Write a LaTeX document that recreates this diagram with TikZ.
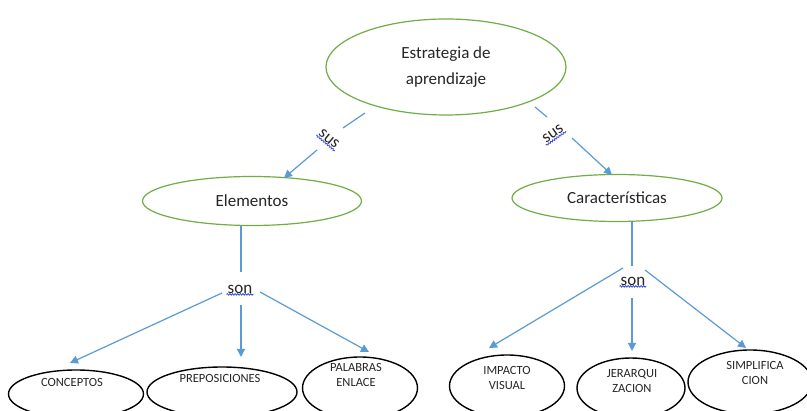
\documentclass[tikz,border=0pt]{standalone}
\usepackage{fontspec}
\setmainfont{Carlito}
\usetikzlibrary{arrows.meta,shapes.geometric,decorations.pathmorphing}
\definecolor{lineblue}{HTML}{5B9BD5}
\definecolor{ovgreen}{HTML}{70AD47}
\definecolor{wavyblue}{HTML}{3B4FD8}
\begin{document}
\begin{tikzpicture}[x=1pt,y=-1pt,
  greenoval/.style={draw=ovgreen, line width=1.2pt, ellipse, inner sep=0pt, align=center, text=black!85, font=\fontsize{17}{26}\selectfont},
  blackoval/.style={draw=black, line width=1.4pt, ellipse, inner sep=0pt},
  smalltxt/.style={align=center, inner sep=0pt, text=black!85, font=\fontsize{12.5}{15.5}\selectfont},
  conn/.style={draw=lineblue, line width=1.2pt},
  arr/.style={conn, -{Triangle[length=8pt,width=8pt]}},
  lbl/.style={inner sep=1pt, text=black!85, font=\fontsize{17}{18}\selectfont},
  squiggle/.style={draw=wavyblue, line width=0.8pt, decorate, decoration={snake, amplitude=0.8pt, segment length=2.6pt}}]
\useasboundingbox (0,0) rectangle (807,411);
\clip (0,0) rectangle (807,411);
\fill[white] (0,0) rectangle (807,411);

% top level
\node[greenoval, minimum width=240pt, minimum height=96pt] (top) at (446,67) {Estrategia de\\aprendizaje};
\node[greenoval, minimum width=219pt, minimum height=49pt] (elem) at (252,201) {Elementos};
\node[greenoval, minimum width=210pt, minimum height=47pt] (car) at (617,198) {Características};

% sus labels
\node[lbl, rotate=-40] (sus1) at (329,139) {sus};
\draw[squiggle] (sus1.south west) -- (sus1.south east);
\node[lbl, rotate=35] (sus2) at (553,134) {sus};
\draw[squiggle] (sus2.south west) -- (sus2.south east);

\coordinate (t1a) at (365,113);
\coordinate (t1b) at (343,128);
\coordinate (t1c) at (317,150);
\coordinate (e1) at (284,178);
\draw[conn] (t1a) -- (t1b);
\draw[arr] (t1c) -- (e1);

\coordinate (t2a) at (535,107);
\coordinate (t2b) at (547,117);
\coordinate (t2c) at (572,138);
\coordinate (c1) at (612,175);
\draw[conn] (t2a) -- (t2b);
\draw[arr] (t2c) -- (c1);

% son labels
\node[lbl] (son1) at (240,289) {son};
\draw[squiggle] (son1.south west) -- (son1.south east);
\node[lbl] (son2) at (633,281) {son};
\draw[squiggle] (son2.south west) -- (son2.south east);

% left branch
\coordinate (l0) at (241,226);
\coordinate (l1) at (241,272);
\draw[conn] (l0) -- (l1);
\coordinate (la) at (222,293);
\coordinate (lb) at (241,305);
\coordinate (lc) at (260,292);
\coordinate (lA) at (70,363);
\coordinate (lB) at (241,357);
\coordinate (lC) at (369,352);
\draw[arr] (la) -- (lA);
\draw[arr] (lb) -- (lB);
\draw[arr] (lc) -- (lC);

% right branch
\coordinate (r0) at (632,222);
\coordinate (r1) at (632,266);
\draw[conn] (r0) -- (r1);
\coordinate (ra) at (623,268);
\coordinate (rb) at (632,298);
\coordinate (rc) at (645,270);
\coordinate (rA) at (489,348);
\coordinate (rB) at (632,351);
\coordinate (rC) at (746,348);
\draw[arr] (ra) -- (rA);
\draw[arr] (rb) -- (rB);
\draw[arr] (rc) -- (rC);

% bottom ovals
\node[blackoval, minimum width=135pt, minimum height=48pt] (conc) at (76,394) {};
\node[smalltxt] (conct) at (72,382) {CONCEPTOS};
\node[blackoval, minimum width=150pt, minimum height=50pt] (prep) at (222,392) {};
\node[smalltxt] (prept) at (220,378) {PREPOSICIONES};
\node[blackoval, minimum width=115pt, minimum height=62pt] (pal) at (360,388) {};
\node[smalltxt] (palt) at (356,375) {PALABRAS\\ENLACE};
\node[blackoval, minimum width=115pt, minimum height=62pt] (imp) at (507,386) {};
\node[smalltxt] (impt) at (507,378) {IMPACTO\\VISUAL};
\node[blackoval, minimum width=108pt, minimum height=60pt] (jer) at (631,388) {};
\node[smalltxt] (jert) at (632,381) {JERARQUI\\ZACION};
\node[blackoval, minimum width=124pt, minimum height=64pt] (sim) at (750,382) {};
\node[smalltxt] (simt) at (755,373) {SIMPLIFICA\\CION};
\end{tikzpicture}
\end{document}
